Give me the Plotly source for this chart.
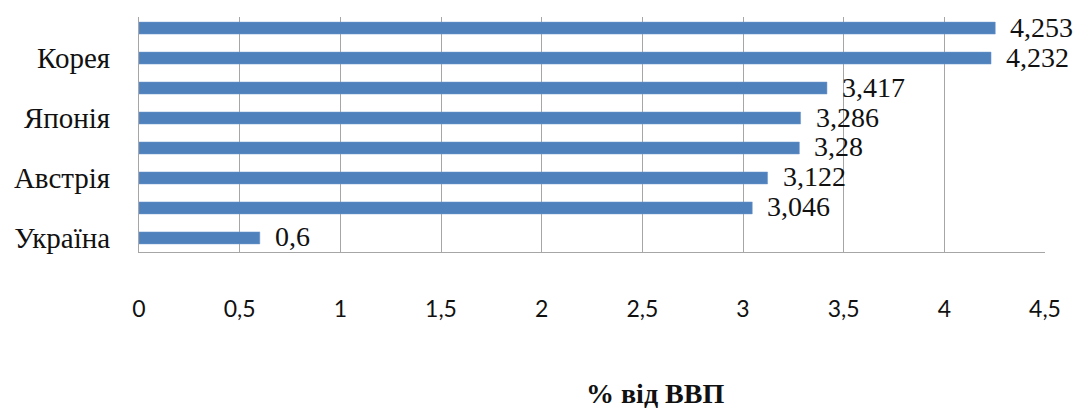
import plotly.graph_objects as go

# Data (top to bottom as shown)
countries = ["Ізраїль", "Корея", "Фінляндія", "Японія", "Швеція", "Австрія", "Данія", "Україна"]
values = [4.253, 4.232, 3.417, 3.286, 3.28, 3.122, 3.046, 0.6]
shown_labels = ["Корея", "Японія", "Австрія", "Україна"]
x_ticks = [0, 0.5, 1, 1.5, 2, 2.5, 3, 3.5, 4, 4.5]
x_title = "% від ВВП"

def fmt(v):
    return str(v).replace(".", ",")

cats = list(reversed(countries))
vals = list(reversed(values))

SERIF = "Liberation Serif, Times New Roman, serif"

fig = go.Figure()
fig.add_trace(go.Bar(
    x=vals, y=cats, orientation="h",
    marker=dict(color="#4f81bd", line=dict(color="#6f98cc", width=0.5)),
    hoverinfo="x+y",
))

for c, v in zip(cats, vals):
    fig.add_annotation(
        x=v, y=c, text=fmt(v), showarrow=False,
        xanchor="left", yanchor="middle", xshift=13, yshift=1,
        font=dict(family=SERIF, size=28, color="#111"),
    )

fig.add_annotation(
    xref="paper", yref="paper", x=0.57, y=-0.6,
    text="<b>" + x_title + "</b>", showarrow=False,
    xanchor="center", yanchor="middle",
    font=dict(family=SERIF, size=28, color="#111"),
)

fig.update_layout(
    width=1080, height=410,
    margin=dict(l=139, r=35, t=17, b=158),
    paper_bgcolor="white", plot_bgcolor="white",
    showlegend=False, bargap=0.6,
    xaxis=dict(
        range=[0, 4.5], tickvals=x_ticks,
        ticktext=[fmt(t) for t in x_ticks],
        showgrid=True, gridcolor="#a6a6a6", gridwidth=1,
        showline=True, linecolor="#a6a6a6", linewidth=1,
        zeroline=False, ticks="", ticklabelstandoff=36,
        tickfont=dict(family="Lato, Open Sans, sans-serif", size=23, color="#111"),
    ),
    yaxis=dict(
        categoryorder="array", categoryarray=cats,
        range=[-0.47, 7.37],
        tickvals=shown_labels, ticktext=shown_labels,
        showgrid=False, showline=True, linecolor="#a6a6a6", linewidth=1,
        ticks="", ticklabelstandoff=22,
        tickfont=dict(family=SERIF, size=29, color="#111"),
    ),
)

fig.write_html("out.html", config={"displayModeBar": False},
               post_script="document.body.style.margin='0';document.body.style.overflow='hidden';")
